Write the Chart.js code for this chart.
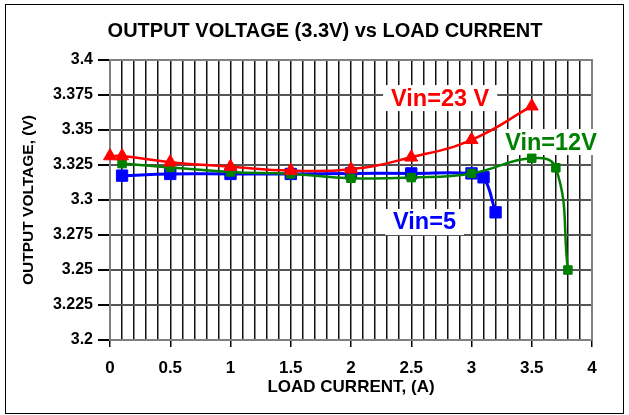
<!DOCTYPE html>
<html>
<head>
<meta charset="utf-8">
<script src="https://cdn.jsdelivr.net/npm/chart.js@4/dist/chart.umd.min.js"></script>
<style>
  html, body { margin: 0; padding: 0; background: #fff; }
  #wrap { width: 629px; height: 415px; }
</style>
</head>
<body>
<div id="wrap"><canvas id="chart"></canvas></div>
<script>
// load current (A) and output voltage (V)
const vin23Current = [0, 0.1, 0.5, 1, 1.5, 2, 2.5, 3, 3.5];
const vin23Voltage = [3.3314, 3.3314, 3.327, 3.3238, 3.321, 3.322, 3.3305, 3.343, 3.367];

const vin12Current = [0.1, 0.5, 1, 1.5, 2, 2.5, 3, 3.5, 3.7, 3.8];
const vin12Voltage = [3.326, 3.3233, 3.320, 3.3186, 3.3155, 3.316, 3.319, 3.3298, 3.323, 3.25];

const vin5Current = [0.1, 0.5, 1, 1.5, 2, 2.5, 3, 3.1, 3.2];
const vin5Voltage = [3.3174, 3.3186, 3.3186, 3.3186, 3.319, 3.319, 3.319, 3.3162, 3.2912];

const seriesLabels = ["Vin=23 V", "Vin=12V", "Vin=5"];
const chartTitle = "OUTPUT VOLTAGE (3.3V) vs LOAD CURRENT";

const toPoints = (xs, ys) => xs.map((x, i) => ({ x: x, y: ys[i] }));

const font = "'Liberation Sans', Arial, sans-serif";

// text labels placed next to the curves (data coordinates)
const curveLabels = [
  { text: seriesLabels[0], x: 2.74, y: 3.3728, color: "#ff0000" },
  { text: seriesLabels[1], x: 3.66, y: 3.3414, color: "#008000" },
  { text: seriesLabels[2], x: 2.61, y: 3.2843, color: "#0000ff" },
];

const frame = {
  id: "frame",
  beforeDraw(chart) {
    const ctx = chart.ctx;
    ctx.save();
    ctx.fillStyle = "#fff";
    ctx.fillRect(0, 0, chart.width, chart.height);
    ctx.strokeStyle = "#000";
    ctx.lineWidth = 1;
    ctx.strokeRect(5.5, 4.5, 618, 409);
    ctx.fillStyle = "#000";
    ctx.font = "bold 20px " + font;
    ctx.textAlign = "center";
    ctx.textBaseline = "middle";
    ctx.fillText(chartTitle, 325, 31);
    ctx.restore();
  },
  beforeDatasetsDraw(chart) {
    const ctx = chart.ctx;
    const a = chart.chartArea;
    ctx.save();
    ctx.strokeStyle = "#808080";
    ctx.lineWidth = 2;
    ctx.strokeRect(a.left, a.top, a.right - a.left, a.bottom - a.top);
    ctx.font = "bold 23.5px " + font;
    ctx.textAlign = "center";
    ctx.textBaseline = "middle";
    curveLabels.forEach((l) => {
      const px = chart.scales.x.getPixelForValue(l.x);
      const py = chart.scales.y.getPixelForValue(l.y);
      const w = ctx.measureText(l.text).width;
      ctx.fillStyle = "#fff";
      ctx.fillRect(px - w / 2 - 8, py - 13, w + 16, 26);
      ctx.fillStyle = l.color;
      ctx.fillText(l.text, px, py + 1);
    });
    ctx.restore();
  },
};

new Chart(document.getElementById("chart"), {
  type: "scatter",
  data: {
    datasets: [
      {
        label: seriesLabels[0],
        data: toPoints(vin23Current, vin23Voltage),
        showLine: true,
        borderColor: "#ff0000",
        backgroundColor: "#ff0000",
        borderWidth: 2.5,
        pointStyle: "triangle",
        pointRadius: 7.5,
        pointBorderWidth: 1,
        tension: 0.45,
        clip: false,
      },
      {
        label: seriesLabels[1],
        data: toPoints(vin12Current, vin12Voltage),
        showLine: true,
        borderColor: "#008000",
        backgroundColor: "#008000",
        borderWidth: 2.5,
        pointStyle: "rect",
        pointRadius: 6,
        pointBorderWidth: 1,
        tension: 0.45,
        clip: false,
      },
      {
        label: seriesLabels[2],
        data: toPoints(vin5Current, vin5Voltage),
        showLine: true,
        borderColor: "#0000ff",
        backgroundColor: "#0000ff",
        borderWidth: 3,
        pointStyle: "rect",
        pointRadius: 8,
        pointBorderWidth: 1,
        tension: 0.45,
        clip: false,
      },
    ],
  },
  options: {
    responsive: true,
    maintainAspectRatio: false,
    animation: false,
    layout: { padding: { top: 60, left: 0, right: 37, bottom: 0 } },
    plugins: {
      legend: { display: false },
      tooltip: { enabled: false },
      title: { display: false },
    },
    scales: {
      x: {
        type: "linear",
        min: 0,
        max: 4,
        afterFit: (s) => { s.height = 75; },
        ticks: {
          stepSize: 0.1,
          autoSkip: false,
          maxRotation: 0,
          padding: 11,
          color: "#000",
          font: { family: font, size: 17, weight: "bold" },
          callback: (v) => Math.abs(v * 2 - Math.round(v * 2)) < 1e-6 ? String(Math.round(v * 10) / 10) : "",
        },
        grid: {
          color: "#111",
          lineWidth: 1.5,
          tickLength: 7,
          tickColor: (c) => c.tick && Math.abs(c.tick.value * 2 - Math.round(c.tick.value * 2)) < 1e-6 ? "#000" : "rgba(0,0,0,0)",
        },
        border: { display: false },
        title: {
          display: true,
          text: "LOAD CURRENT, (A)",
          color: "#000",
          font: { family: font, size: 17, weight: "bold" },
          padding: { top: 0, bottom: 17 },
        },
      },
      y: {
        min: 3.2,
        max: 3.4,
        afterFit: (s) => { s.width = 110; },
        ticks: {
          stepSize: 0.025,
          padding: 5,
          color: "#000",
          font: { family: font, size: 16, weight: "bold" },
          callback: (v) => String(Math.round(v * 1000) / 1000),
        },
        grid: {
          color: "#555",
          lineWidth: 2,
          tickLength: 12,
          tickColor: "#000",
        },
        border: { display: false },
        title: {
          display: true,
          text: "OUTPUT VOLTAGE, (V)",
          color: "#000",
          font: { family: font, size: 15.5, weight: "bold" },
          padding: { top: 19, bottom: 0 },
        },
      },
    },
  },
  plugins: [frame],
});
</script>
</body>
</html>
